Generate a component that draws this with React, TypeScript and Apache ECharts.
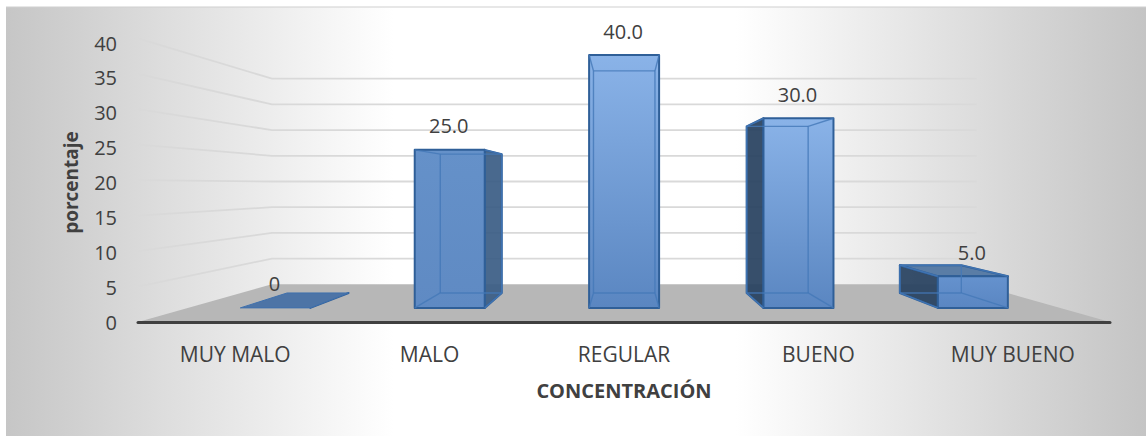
import React, { useEffect, useRef } from "react";
import * as echarts from "echarts";

const categories = ["MUY MALO", "MALO", "REGULAR", "BUENO", "MUY BUENO"];
const values = [0, 25, 40, 30, 5];
const gridValues = [5, 10, 15, 20, 25, 30, 35, 40];
const faceTopColors = ["#6794ca", "#6591c9", "#8ab3e8", "#8ab3e8", "#6592ce"];
const faceBottomColors = ["#5c87c0", "#5f8ac3", "#5a86c1", "#5a86c1", "#5a86c2"];
const FONT = "'Open Sans', sans-serif";

// Perspective model: every 3D point is scaled toward a vanishing point.
const VP = [625, 185];
const FRONT_Y = 322;
const WALL_STRETCH = 1.0168;
const BAR_STRETCH = 1.0103;
const DEPTH_WALL = 0.725;
const DEPTH_BAR_FRONT = 0.897;
const DEPTH_BAR_BACK = 0.788;
const BAR_HALF_BAND = 0.2007;

const project = (p: number[], depth: number, stretch: number) => [
  VP[0] + (p[0] - VP[0]) * depth,
  VP[1] + (FRONT_Y - (FRONT_Y - p[1]) * stretch - VP[1]) * depth,
];

const EDGE = "#2f5f98";
const INNER = "#4478b8";

function renderWalls(params: any, api: any) {
  const v = api.value(0);
  const [x0, y] = api.coord([0, v]);
  const band = api.size([1, 0])[0];
  const left = x0 - band / 2;
  const right = left + band * categories.length;
  const wall = (x: number, d: number) => project([x, y], d, WALL_STRETCH);
  const children: any[] = [];
  if (v === 0) {
    children.push({
      type: "polygon",
      shape: { points: [[left, y], wall(left, DEPTH_WALL), wall(right, DEPTH_WALL), [right, y]] },
      style: { fill: "#b7b7b7" },
    });
  } else {
    children.push({
      type: "polyline",
      shape: { points: [wall(left, 1), wall(left, DEPTH_WALL), wall(right, DEPTH_WALL)] },
      style: { fill: "none", stroke: "#d9d9d9", lineWidth: 1.8 },
    });
  }
  return { type: "group", children };
}

function renderBar(params: any, api: any) {
  const i = api.value(0);
  const v = api.value(1);
  const [cx, top] = api.coord([i, v]);
  const [, base] = api.coord([i, 0]);
  const half = api.size([1, 0])[0] * BAR_HALF_BAND;
  const corner = (x: number, y: number, d: number) => project([cx + x * half, y], d, BAR_STRETCH);
  const fTL = corner(-1, top, DEPTH_BAR_FRONT);
  const fTR = corner(1, top, DEPTH_BAR_FRONT);
  const fBL = corner(-1, base, DEPTH_BAR_FRONT);
  const fBR = corner(1, base, DEPTH_BAR_FRONT);
  const bTL = corner(-1, top, DEPTH_BAR_BACK);
  const bTR = corner(1, top, DEPTH_BAR_BACK);
  const bBL = corner(-1, base, DEPTH_BAR_BACK);
  const bBR = corner(1, base, DEPTH_BAR_BACK);
  const poly = (points: number[][], fill: any, stroke = EDGE, lineWidth = 2) => ({
    type: "polygon",
    shape: { points },
    style: { fill, stroke, lineWidth, lineJoin: "round" },
  });
  const seg = (a: number[], b: number[]) => ({
    type: "line",
    shape: { x1: a[0], y1: a[1], x2: b[0], y2: b[1] },
    style: { stroke: INNER, lineWidth: 1.4, opacity: 0.8 },
  });
  const faceFill = {
    type: "linear",
    x: 0,
    y: 0,
    x2: 0,
    y2: 1,
    colorStops: [
      { offset: 0, color: faceTopColors[i] },
      { offset: 1, color: faceBottomColors[i] },
    ],
    global: false,
  };
  const children: any[] = [];
  // Outer side walls are visible only when they stick out past the front face.
  if (bTL[0] < fTL[0]) children.push(poly([bTL, fTL, fBL, bBL], "rgba(40,66,96,0.93)"));
  if (bTR[0] > fTR[0]) children.push(poly([fTR, bTR, bBR, fBR], "rgba(58,92,132,0.92)"));
  if (v === 0) {
    children.push(poly([fBL, fBR, bBR, bBL], "#4d74a6", "#3f70ad", 1));
  } else {
    if (bTL[1] < fTL[1]) children.push(poly([bTL, bTR, fTR, fTL], "#5a7da6"));
    children.push(poly([fTL, fTR, fBR, fBL], faceFill));
    children.push(
      seg(bTL, bTR),
      seg(bTR, bBR),
      seg(bBR, bBL),
      seg(bBL, bTL),
      seg(fTL, bTL),
      seg(fTR, bTR),
      seg(fBL, bBL),
      seg(fBR, bBR)
    );
  }
  children.push({
    type: "text",
    x: (fTL[0] + fTR[0]) / 2 - 1,
    y: fTL[1] - 24,
    style: {
      text: v === 0 ? "0" : v.toFixed(1),
      fill: "#404040",
      font: `20px ${FONT}`,
      align: "center",
      verticalAlign: "middle",
    },
  });
  return { type: "group", children };
}

export default function App() {
  const ref = useRef<HTMLDivElement>(null);
  useEffect(() => {
    const chart = echarts.init(ref.current!, undefined, { renderer: "svg" });
    chart.setOption({
      animation: false,
      grid: { left: 138, right: 36, top: 43, bottom: 114 },
      graphic: [
        {
          type: "rect",
          z: -10,
          silent: true,
          shape: { x: 6, y: 7, width: 1140, height: 429 },
          style: {
            fill: {
              type: "linear",
              x: 0,
              y: 0,
              x2: 1,
              y2: 0,
              colorStops: [
                { offset: 0, color: "#c6c6c6" },
                { offset: 0.34, color: "#ffffff" },
                { offset: 0.64, color: "#ffffff" },
                { offset: 1, color: "#c4c4c4" },
              ],
            },
          },
        },
        {
          type: "line",
          z: -9,
          silent: true,
          shape: { x1: 6, y1: 7, x2: 1146, y2: 7 },
          style: { stroke: "#cfcfcf", lineWidth: 1 },
        },
      ],
      xAxis: {
        type: "category",
        data: categories,
        axisTick: { show: false },
        axisLine: { lineStyle: { color: "#404040", width: 3, cap: "round" } },
        axisLabel: { color: "#404040", fontFamily: FONT, fontSize: 21, margin: 21 },
        name: "CONCENTRACIÓN",
        nameLocation: "middle",
        nameGap: 58,
        nameTextStyle: { color: "#404040", fontFamily: FONT, fontSize: 20, fontWeight: "bold" },
        z: 5,
      },
      yAxis: {
        type: "value",
        min: 0,
        max: 40,
        interval: 5,
        splitLine: { show: false },
        axisLine: { show: false },
        axisTick: { show: false },
        axisLabel: { color: "#404040", fontFamily: FONT, fontSize: 20, margin: 21 },
        name: "porcentaje",
        nameLocation: "middle",
        nameGap: 58,
        nameTextStyle: { color: "#404040", fontFamily: FONT, fontSize: 19, fontWeight: "bold" },
      },
      series: [
        {
          type: "custom",
          coordinateSystem: "cartesian2d",
          renderItem: renderWalls,
          data: [[0], ...gridValues.map((v) => [v])],
          encode: { y: 0 },
          silent: true,
          z: 1,
          clip: false,
        },
        {
          type: "custom",
          coordinateSystem: "cartesian2d",
          renderItem: renderBar,
          data: values.map((v, i) => [i, v]),
          encode: { x: 0, y: 1 },
          silent: true,
          z: 3,
          clip: false,
        },
      ],
    });
    return () => chart.dispose();
  }, []);
  return <div ref={ref} style={{ position: "absolute", left: 0, top: 0, width: 1146, height: 436 }} />;
}
